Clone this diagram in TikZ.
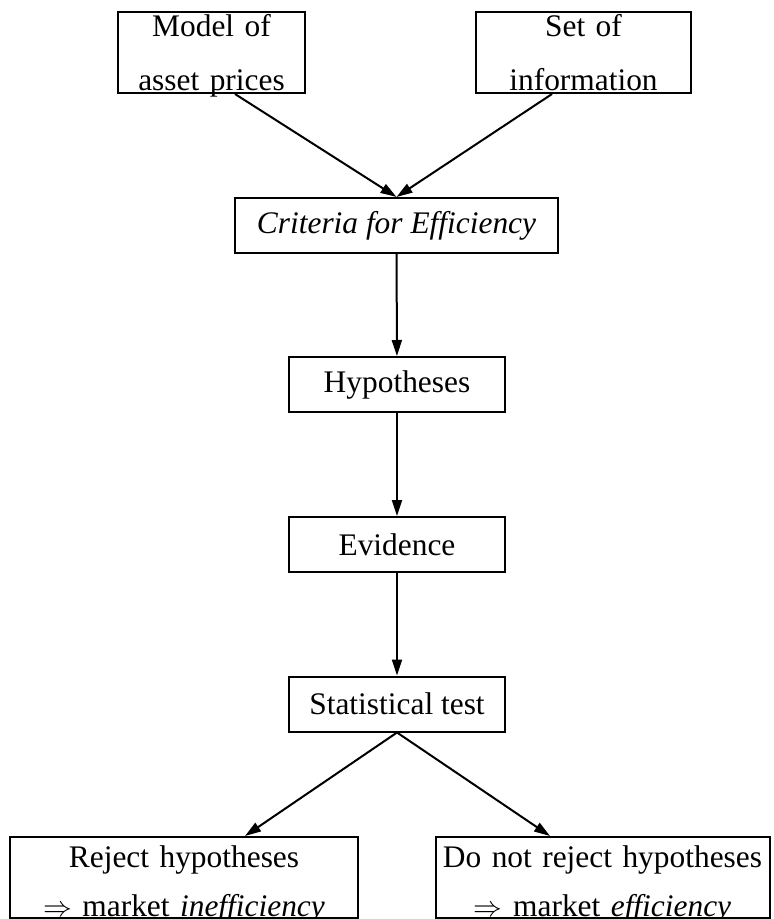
\documentclass[tikz,border=0pt]{standalone}
\usepackage{fontspec}
\setmainfont{Liberation Serif}
\usetikzlibrary{arrows.meta, positioning}

\begin{document}
\begin{tikzpicture}[x=0.5pt, y=-0.5pt,
    >={Triangle[length=8pt, width=5pt]},
    box/.style={draw, line width=1pt, inner sep=0pt, minimum height=27.5pt,
        font=\fontsize{15.7}{19}\selectfont},
    twobox/.style={draw, line width=1pt, inner sep=0pt, align=center,
        text width=#1, text height=12.5pt, text depth=28pt,
        font=\fontsize{15.7}{27}\selectfont},
    flow/.style={->, line width=1pt}]
    \useasboundingbox (0, 0) rectangle (774, 919);

    % inputs
    \node[twobox=93.5pt] (model) at (211.5, 52.5) {Model of\\asset prices};
    \node[twobox=107.5pt] (info) at (583.5, 52.5) {Set of\\information};

    % main chain
    \node[box, minimum width=161.5pt] (crit) at (396.5, 225.5) {\textit{Criteria for Efficiency}};
    \node[box, minimum width=108pt] (hyp) at (397, 384.5) {Hypotheses};
    \node[box, minimum width=108pt] (evid) at (397, 544.5) {Evidence};
    \node[box, minimum width=108pt] (stat) at (397, 704) {Statistical test};

    % outcomes
    \node[twobox=174pt, text height=15pt, text depth=25.5pt,
        font=\fontsize{15.7}{24.5}\selectfont] (rej) at (184, 877.5)
        {Reject hypotheses\\$\Rightarrow$ market \textit{inefficiency}};
    \node[twobox=167pt, text height=15pt, text depth=25.5pt,
        font=\fontsize{15.7}{24.5}\selectfont] (norej) at (602.5, 877.5)
        {Do not reject hypotheses\\$\Rightarrow$ market \textit{efficiency}};

    \draw[flow] ([xshift=11.75pt]model.south) -- (crit.north);
    \draw[flow] ([xshift=-15.75pt]info.south) -- (crit.north);
    \draw[flow] (crit) -- (hyp);
    \draw[flow] (hyp) -- (evid);
    \draw[flow] (evid) -- (stat);
    \draw[flow] (stat.south) -- ([xshift=30.5pt]rej.north);
    \draw[flow] (stat.south) -- ([xshift=-26.25pt]norej.north);
\end{tikzpicture}
\end{document}
